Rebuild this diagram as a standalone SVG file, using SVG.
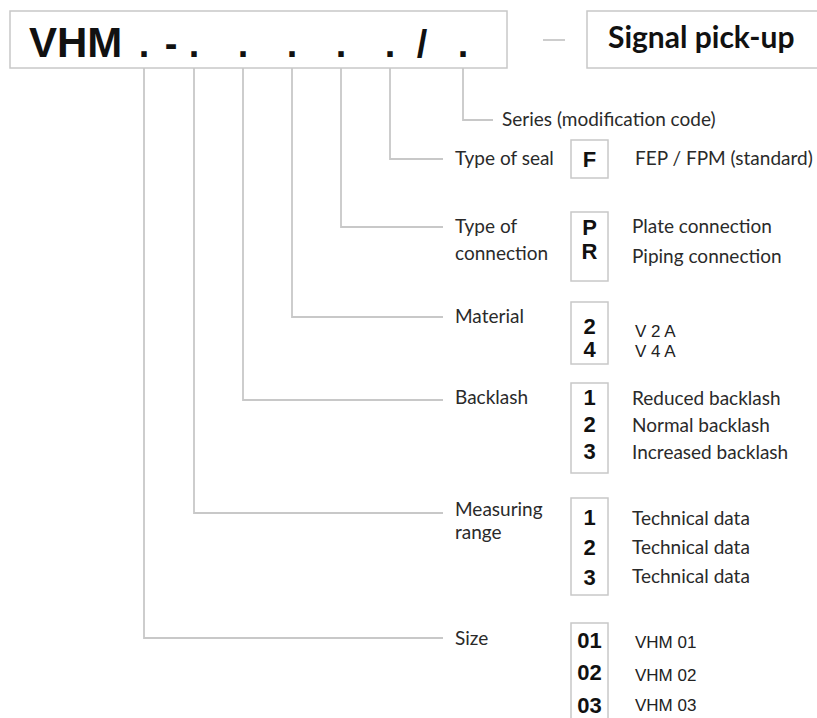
<svg xmlns="http://www.w3.org/2000/svg" width="817" height="718" viewBox="0 0 817 718">
<style>
.box{fill:#fff;stroke:#c8c8c8;stroke-width:1.5}
.wire{fill:none;stroke:#c8c8c8;stroke-width:1.8}
.lbl{font-family:Lato,"Open Sans",sans-serif;font-size:19px;fill:#2a2a2a}
.code{font-family:"Liberation Sans",Arial,sans-serif;font-weight:bold;font-size:22px;fill:#111;text-anchor:middle}
.val{font-family:"Liberation Sans",Arial,sans-serif;font-size:17px;fill:#222}
.big{font-family:"Liberation Sans",Arial,sans-serif;font-weight:bold;font-size:42px;fill:#111}
.dot{font-family:"Liberation Sans",Arial,sans-serif;font-weight:bold;font-size:38px;fill:#111;text-anchor:middle}
</style>
<rect width="817" height="718" fill="#fff"/>
<g id="code-box">
<rect class="box" x="10" y="11" width="497" height="57"/>
<text class="big" x="29" y="57">VHM</text>
<text class="dot" x="144" y="57">.</text>
<text class="dot" x="171" y="57">-</text>
<text class="dot" x="194" y="57">.</text>
<text class="dot" x="243" y="57">.</text>
<text class="dot" x="292" y="57">.</text>
<text class="dot" x="341" y="57">.</text>
<text class="dot" x="390" y="57">.</text>
<text class="dot" x="422" y="57">/</text>
<text class="dot" x="463" y="57">.</text>
</g>
<g id="signal-box">
<line class="wire" x1="543" y1="40" x2="565" y2="40"/>
<rect class="box" x="587" y="11" width="250" height="57"/>
<text x="608" y="48" font-family="Lato,'Open Sans',sans-serif" font-weight="bold" font-size="30" fill="#111">Signal pick-up</text>
</g>
<g id="connectors">
<polyline class="wire" points="463,68 463,120 493,120"/>
<polyline class="wire" points="390,68 390,159 443,159"/>
<polyline class="wire" points="341,68 341,227 443,227"/>
<polyline class="wire" points="292,68 292,317 443,317"/>
<polyline class="wire" points="243,68 243,400 443,400"/>
<polyline class="wire" points="194,68 194,513 443,513"/>
<polyline class="wire" points="144,68 144,638 443,638"/>
</g>
<g id="series">
<text class="lbl" x="502" y="126">Series (modification code)</text>
</g>
<g id="seal">
<text class="lbl" x="455" y="165">Type of seal</text>
<rect class="box" x="571" y="140" width="37" height="38"/>
<text class="code" x="589.5" y="167">F</text>
<text class="lbl" x="635" y="165">FEP / FPM (standard)</text>
</g>
<g id="connection">
<text class="lbl" x="455" y="233">Type of</text>
<text class="lbl" x="455" y="260">connection</text>
<rect class="box" x="571" y="212" width="37" height="69"/>
<text class="code" x="589.5" y="235">P</text>
<text class="code" x="589.5" y="259">R</text>
<text class="lbl" x="632" y="233">Plate connection</text>
<text class="lbl" x="632" y="263">Piping connection</text>
</g>
<g id="material">
<text class="lbl" x="455" y="323">Material</text>
<rect class="box" x="571" y="302" width="37" height="62"/>
<text class="code" x="589.5" y="334">2</text>
<text class="code" x="589.5" y="357">4</text>
<text class="val" x="635" y="337">V 2 A</text>
<text class="val" x="635" y="357">V 4 A</text>
</g>
<g id="backlash">
<text class="lbl" x="455" y="404">Backlash</text>
<rect class="box" x="571" y="383" width="37" height="90"/>
<text class="code" x="589.5" y="405">1</text>
<text class="code" x="589.5" y="432">2</text>
<text class="code" x="589.5" y="459">3</text>
<text class="lbl" x="632" y="405">Reduced backlash</text>
<text class="lbl" x="632" y="432">Normal backlash</text>
<text class="lbl" x="632" y="459">Increased backlash</text>
</g>
<g id="measuring">
<text class="lbl" x="455" y="516">Measuring</text>
<text class="lbl" x="455" y="539">range</text>
<rect class="box" x="571" y="498" width="37" height="97"/>
<text class="code" x="589.5" y="525">1</text>
<text class="code" x="589.5" y="555">2</text>
<text class="code" x="589.5" y="585">3</text>
<text class="lbl" x="632" y="525">Technical data</text>
<text class="lbl" x="632" y="554">Technical data</text>
<text class="lbl" x="632" y="583">Technical data</text>
</g>
<g id="size">
<text class="lbl" x="455" y="645">Size</text>
<rect class="box" x="571" y="623" width="37" height="110"/>
<text class="code" x="589.5" y="648" font-size="23">01</text>
<text class="code" x="589.5" y="680" font-size="23">02</text>
<text class="code" x="589.5" y="713" font-size="23">03</text>
<text class="val" x="635" y="648">VHM 01</text>
<text class="val" x="635" y="681">VHM 02</text>
<text class="val" x="635" y="711">VHM 03</text>
</g>
</svg>
